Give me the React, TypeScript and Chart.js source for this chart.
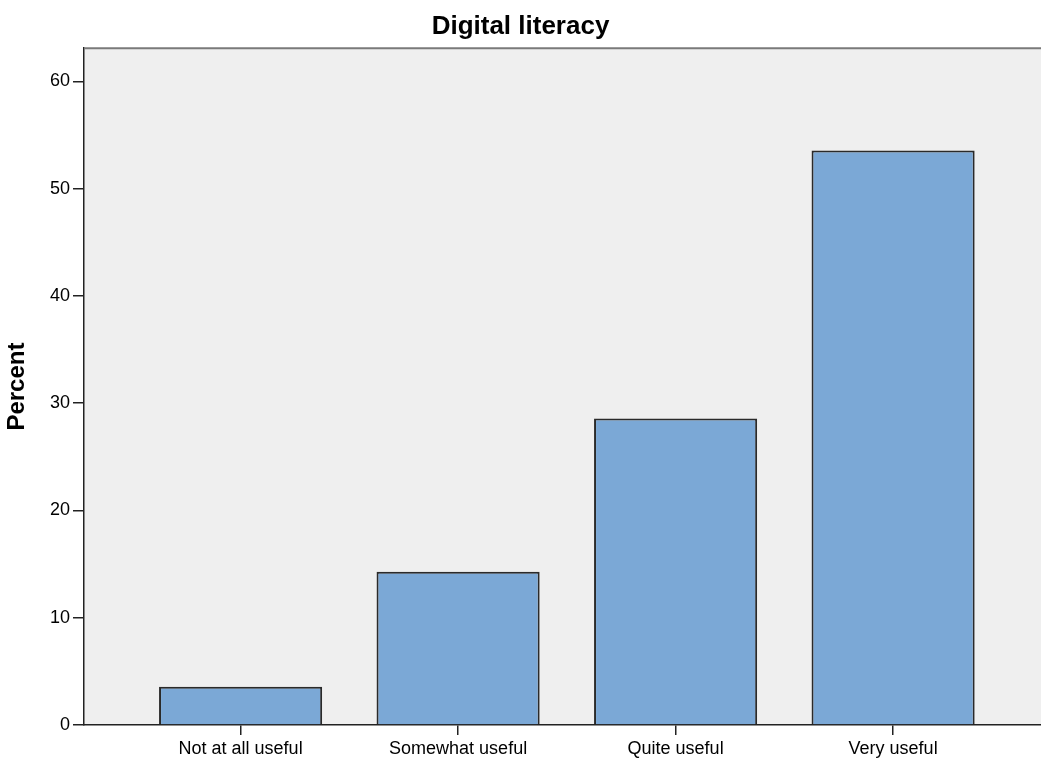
import React, { useEffect, useRef } from "react";
import { Chart, registerables } from "chart.js";

Chart.register(...registerables);

const chartTitle = "Digital literacy";
const yAxisTitle = "Percent";
const categories = ["Not at all useful", "Somewhat useful", "Quite useful", "Very useful"];
const percents = [3.57, 14.29, 28.57, 53.57];
const yTicks = [0, 10, 20, 30, 40, 50, 60];
const yMax = 63.1;
const xMin = -0.72;
const xMax = 3.68;

const FONT = "'Liberation Sans', Arial, Helvetica, sans-serif";

const plotBackground = {
  id: "plotBackground",
  beforeDraw(chart: any) {
    const { ctx, chartArea } = chart;
    ctx.save();
    ctx.fillStyle = "#EFEFEF";
    ctx.fillRect(chartArea.left, chartArea.top, chartArea.right - chartArea.left, chartArea.bottom - chartArea.top);
    ctx.restore();
  },
  afterDraw(chart: any) {
    const { ctx, chartArea } = chart;
    ctx.save();
    ctx.strokeStyle = "#7a7a7a";
    ctx.lineWidth = 2;
    ctx.beginPath();
    ctx.moveTo(chartArea.left, chartArea.top);
    ctx.lineTo(chartArea.right, chartArea.top);
    ctx.stroke();
    ctx.restore();
  },
};

export default function App() {
  const canvasRef = useRef<HTMLCanvasElement | null>(null);

  useEffect(() => {
    if (!canvasRef.current) return;
    const chart = new Chart(canvasRef.current, {
      type: "bar",
      data: {
        datasets: [
          {
            data: categories.map((c, i) => ({ x: i, y: percents[i] })),
            backgroundColor: "#7BA8D6",
            borderColor: "#2A2A2A",
            borderWidth: 2,
            categoryPercentage: 1,
            barPercentage: 0.75,
          },
        ],
      },
      plugins: [plotBackground],
      options: {
        animation: false,
        responsive: true,
        maintainAspectRatio: false,
        layout: { padding: { left: 0, right: 0, top: 0, bottom: 0 } },
        plugins: {
          legend: { display: false },
          tooltip: { enabled: false },
          title: {
            display: true,
            text: chartTitle,
            color: "#000",
            font: { family: FONT, size: 26, weight: "bold", lineHeight: 1.2 },
            padding: { top: 11, bottom: 6 },
          },
        },
        scales: {
          x: {
            type: "linear",
            min: xMin,
            max: xMax,
            offset: false,
            afterBuildTicks: (scale: any) => {
              scale.ticks = categories.map((c, i) => ({ value: i }));
            },
            afterFit: (scale: any) => {
              scale.height = 35;
            },
            grid: {
              display: true,
              offset: false,
              drawOnChartArea: false,
              drawTicks: true,
              tickLength: 10,
              color: "#222",
              lineWidth: 1.5,
            },
            border: { display: true, color: "#222", width: 1.5 },
            ticks: {
              color: "#000",
              font: { family: FONT, size: 18 },
              padding: 3,
              maxRotation: 0,
              autoSkip: false,
              callback: (value: any) => categories[Math.round(Number(value))] ?? "",
            },
          },
          y: {
            type: "linear",
            min: 0,
            max: yMax,
            afterBuildTicks: (scale: any) => {
              scale.ticks = yTicks.map((v) => ({ value: v }));
            },
            afterFit: (scale: any) => {
              scale.width = 84;
            },
            grid: {
              display: true,
              drawOnChartArea: false,
              drawTicks: true,
              tickLength: 11,
              color: "#222",
              lineWidth: 1.5,
            },
            border: { display: true, color: "#222", width: 1.5 },
            ticks: {
              color: "#000",
              font: { family: FONT, size: 18 },
              padding: 3,
            },
            title: {
              display: true,
              text: yAxisTitle,
              color: "#000",
              font: { family: FONT, size: 24, weight: "bold", lineHeight: 1.2 },
              padding: { top: 3, bottom: 0 },
            },
          },
        },
      },
    } as any);
    return () => chart.destroy();
  }, []);

  return (
    <div style={{ position: "fixed", left: 0, top: 0, width: 1041, height: 760, background: "#fff" }}>
      <canvas ref={canvasRef} />
    </div>
  );
}
